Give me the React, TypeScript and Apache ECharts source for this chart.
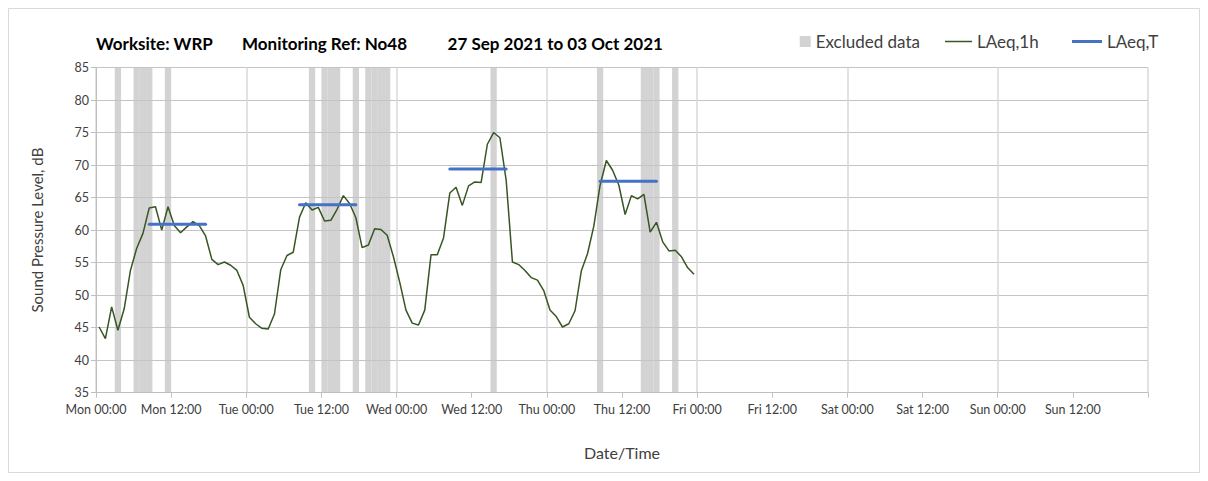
import React, { useEffect, useRef } from "react";
import * as echarts from "echarts";

// Hourly LAeq,1h values, Mon 00:00 onwards (each value centred on its hour)
const laeq1h: number[] = [
  45.1, 43.3, 48.2, 44.6, 47.9, 53.8, 57.2, 59.5, 63.4, 63.6, 60.0, 63.6,
  60.7, 59.6, 60.5, 61.3, 60.7, 59.1, 55.5, 54.7, 55.1, 54.6, 53.8, 51.5,
  46.6, 45.6, 44.9, 44.8, 47.1, 53.9, 56.1, 56.6, 62.0, 64.2, 63.1, 63.5,
  61.4, 61.5, 63.2, 65.3, 64.1, 61.9, 57.3, 57.7, 60.2, 60.1, 59.2, 55.9,
  52.0, 47.7, 45.7, 45.4, 47.7, 56.2, 56.2, 58.8, 65.7, 66.6, 63.8, 66.8,
  67.4, 67.3, 73.2, 75.0, 74.2, 67.7, 55.1, 54.7, 53.8, 52.7, 52.3, 50.7,
  47.7, 46.7, 45.1, 45.6, 47.6, 53.7, 56.4, 60.6, 66.9, 70.7, 69.2, 66.9,
  62.4, 65.3, 64.8, 65.5, 59.7, 61.2, 58.2, 56.8, 56.9, 55.9, 54.2, 53.2,
];

// Excluded hours (hour index from Mon 00:00)
const excludedHours: number[] = [3, 6, 7, 8, 11, 34, 36, 37, 38, 41, 43, 44, 45, 46, 63, 80, 87, 88, 89, 92];

// LAeq,T daytime periods
const laeqTStart: number[] = [8.5, 32.5, 56.5, 80.5];
const laeqTEnd: number[] = [17.5, 41.5, 65.5, 89.5];
const laeqTValue: number[] = [60.9, 63.9, 69.4, 67.5];

const dayNames: string[] = ["Mon", "Tue", "Wed", "Thu", "Fri", "Sat", "Sun"];
const timeLabels: string[] = ["00:00", "12:00"];

const titleParts: string[] = [
  "Worksite: WRP",
  "Monitoring Ref: No48",
  "27 Sep 2021 to 03 Oct 2021",
];

const FONT = "Lato, 'Liberation Sans', sans-serif";
const TXT = "#404040";

export default function App() {
  const ref = useRef<HTMLDivElement>(null);
  useEffect(() => {
    if (!ref.current) return;
    const chart = echarts.init(ref.current, undefined, { renderer: "svg" });

    const lineData = laeq1h.map((v, i) => [i + 0.5, v]);
    const exclData = excludedHours.map((h) => [h + 0.5, 85]);

    const laeqTSeries = laeqTValue.map((v, i) => ({
      name: "LAeq,T",
      type: "line",
      xAxisIndex: 0,
      yAxisIndex: 0,
      data: [
        [laeqTStart[i], v],
        [laeqTEnd[i], v],
      ],
      showSymbol: false,
      symbol: "none",
      lineStyle: { color: "#4472C4", width: 3, cap: "round" },
      itemStyle: { color: "#4472C4" },
      z: 4,
    }));

    const legendText = { fontSize: 17, color: TXT, fontFamily: FONT };

    const option: any = {
      animation: false,
      textStyle: { fontFamily: FONT },
      graphic: [
        {
          type: "rect",
          shape: { x: 0.5, y: 0.5, width: 1191, height: 464 },
          style: { fill: "none", stroke: "#d9d9d9", lineWidth: 1 },
          silent: true,
        },
        ...titleParts.map((t, i) => ({
          type: "text",
          x: [88, 234, 439.6][i],
          y: 35,
          style: {
            text: t,
            fill: "#000",
            font: `bold 17px ${FONT}`,
            textVerticalAlign: "middle",
          },
        })),
      ],
      legend: [
        {
          right: 280,
          top: 25,
          padding: 0,
          itemWidth: 11,
          itemHeight: 11,
          textStyle: legendText,
          data: [{ name: "Excluded data", icon: "rect" }],
        },
        {
          left: 937,
          top: 25,
          padding: 0,
          itemWidth: 27,
          itemHeight: 1.5,
          textStyle: legendText,
          data: [{ name: "LAeq,1h", icon: "rect" }],
        },
        {
          left: 1064,
          top: 25,
          padding: 0,
          itemWidth: 30,
          itemHeight: 3,
          textStyle: legendText,
          data: [{ name: "LAeq,T", icon: "rect" }],
        },
      ],
      grid: { left: 88, right: 52, top: 59.5, bottom: 80.3, containLabel: false },
      xAxis: [
        {
          type: "value",
          min: 0,
          max: 168,
          interval: 12,
          name: "Date/Time",
          nameLocation: "middle",
          nameGap: 52,
          nameTextStyle: { fontSize: 16, color: TXT, fontFamily: FONT },
          axisLine: { show: true, lineStyle: { color: "#bfbfbf", width: 1 } },
          axisTick: { show: true, length: 5, lineStyle: { color: "#bfbfbf" } },
          axisLabel: {
            color: TXT,
            fontSize: 12.5,
            fontFamily: FONT,
            margin: 10,
            formatter: (v: number) => {
              if (v >= 168) return "";
              const d = Math.floor(v / 24);
              const t = (v % 24) / 12;
              return `${dayNames[d]} ${timeLabels[t]}`;
            },
          },
          splitLine: { show: false },
        },
        {
          type: "value",
          min: 0,
          max: 168,
          interval: 24,
          show: true,
          position: "bottom",
          axisLine: { show: false },
          axisTick: { show: false },
          axisLabel: { show: false },
          splitLine: { show: true, lineStyle: { color: "#d9d9d9", width: 1.5 } },
        },
      ],
      yAxis: {
        type: "value",
        min: 35,
        max: 85,
        interval: 5,
        name: "Sound Pressure Level, dB",
        nameLocation: "middle",
        nameGap: 52,
        nameTextStyle: { fontSize: 15, color: TXT, fontFamily: FONT },
        axisLine: { show: true, lineStyle: { color: "#bfbfbf", width: 1 } },
        axisTick: { show: true, length: 5, lineStyle: { color: "#bfbfbf" } },
        axisLabel: { color: TXT, fontSize: 12.5, fontFamily: FONT, margin: 7 },
        splitLine: { show: true, lineStyle: { color: "#c4c4c4", width: 1 } },
      },
      series: [
        {
          name: "Excluded data",
          type: "bar",
          xAxisIndex: 0,
          yAxisIndex: 0,
          data: exclData,
          barWidth: 6.3,
          itemStyle: { color: "#d3d3d3" },
          z: -1,
        },
        {
          name: "LAeq,1h",
          type: "line",
          xAxisIndex: 0,
          yAxisIndex: 0,
          data: lineData,
          showSymbol: false,
          symbol: "none",
          lineStyle: { color: "#375623", width: 1.5 },
          itemStyle: { color: "#375623" },
          z: 3,
        },
        ...laeqTSeries,
      ],
    };

    chart.setOption(option);
    return () => chart.dispose();
  }, []);

  return <div ref={ref} style={{ width: 1192, height: 465 }} />;
}
